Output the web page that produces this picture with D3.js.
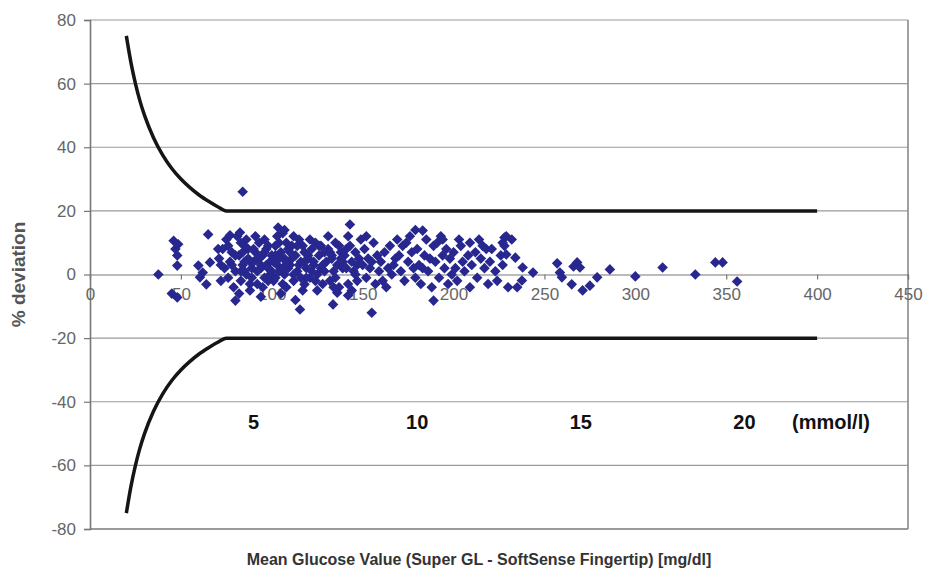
<!DOCTYPE html>
<html>
<head>
<meta charset="utf-8">
<script src="https://cdn.jsdelivr.net/npm/d3@7"></script>
<style>
  html, body { margin: 0; padding: 0; background: #fff; }
  svg { display: block; font-family: "Liberation Sans", Arial, sans-serif; }
</style>
</head>
<body>
<svg id="chart" width="944" height="575"></svg>
<script>
// Mean glucose (mg/dl) of each paired measurement
const glucose = [
  37.6, 45, 46, 47, 48, 48, 48.5, 48,
  59.6, 60.5, 62, 64, 65, 66, 70.5,
  71, 72, 73, 74, 75, 76, 77, 77, 78, 79, 80, 80, 72, 76,
  81, 82, 82.5, 83, 84, 84, 85, 86, 87, 88, 89, 84, 86, 88, 82, 85, 87, 89, 83,
  90, 91, 92, 93, 94, 95, 96, 97, 98, 99, 91, 93, 95, 97, 99, 92, 94, 96, 98,
  100, 101, 102, 103, 103.5, 104, 105, 106, 107, 107, 108, 109, 101, 103, 105, 107, 109, 102, 104, 106, 108,
  110, 111, 112, 113, 114, 115, 115.5, 116, 117, 118, 118, 119, 111, 113, 115, 117, 119, 112,
  120, 121, 122, 123, 124, 125, 126, 127, 128, 129, 121, 123, 125, 127, 129,
  130, 131, 132, 133, 133.7, 134, 135, 136, 136, 137, 138, 139, 131, 133, 135, 137, 139,
  140, 141, 142, 142, 143, 143, 144, 145, 146, 147, 148, 149, 141, 144, 147,
  150, 151, 152, 153, 154, 155, 156, 157, 158, 159, 152, 155,
  160, 161, 162, 163, 164, 165, 166, 167, 168, 169,
  170, 171, 172, 173, 174, 175, 176, 177, 178, 179, 179, 183,
  180, 181, 182, 183, 184, 185, 186, 187, 188, 189, 189,
  190, 191, 192, 193, 194, 194, 195, 196, 197, 198, 199,
  200, 201, 202, 203, 204, 205, 206, 208, 209, 209,
  210, 212, 213, 214, 215, 216, 217, 218, 219,
  220, 221, 223, 224, 226, 227, 227, 228, 228, 229, 229, 230,
  232, 234, 235, 237.6, 238, 243.7,
  257, 258.5, 259.6, 265, 266, 268, 269.5, 271, 275, 279, 286,
  300, 315, 333, 344, 348, 356,
  78, 80, 83, 85, 88, 90, 92, 94, 96, 98,
  100, 102, 104, 106, 108, 110, 112, 114, 116, 118,
  120, 122, 124, 126, 128, 132, 134, 138, 142, 146
];

// Percent deviation of each pair
const deviation = [
  0, -6, 10.6, 8, 6, -7.2, 9.5, 2.8,
  2.8, -0.9, 0.6, -3.1, 12.6, 3.8, 8,
  5, -2, 8, 2, 11, -1, 4, 12.3, 7, -4, 1, -8.2, 3, 9,
  12, 6, 13.2, -2, 3, 26, 9, 0, 5, -5, 2, 7, 11, 4, -6, 1, 8, -1, 10,
  4, 7, -3, 10, 2, 6, -1, 3, 9, 0, 12, 5, -4, 8, 4, 1, -7, 11, 2,
  6, -2, 9, 3, 14.8, 1, 7, -3, 5, 14, 10, 2, 4, 12, -6, 0, 8, -1, 5, 13, -4,
  3, 9, -2, 6, 1, 11, -11, 4, -5, 7, -3.1, 2, 5, -8, 3, 9, -1, 12,
  5, -1, 8, 3, 10, 0, 6, 2, -3, 7, 11, 4, -5, 9, 1,
  4, 8, -2, 6, -9.4, 1, 10, 3, -5.7, -4, 7, 2, 12, 5, -1, 9, 4,
  6, 2, -3, -6.6, 9, 15.7, 4, 1, 7, -2, 5, 11, 8, -5, 3,
  3, 8, -1, 5, 2, -12, 10, -3, 6, 1, 12, 4,
  4, -2, 7, -4, 2, 9, 0, 3, 5, 11,
  6, 1, 9, -2, 10, 4, 12, 7, 2, -1, 14, 13.8,
  8, 3, -3, 2, 6, 11, 1, 5, -4, 9, -8.2,
  4, 10, -1, 12, 6, 11, 2, 8, -3, 5, 0,
  7, 2, -2, 11, 9, 4, 1, 6, -4, 10,
  3, 7, -1, 11, 5, 9, 2, 8, -3,
  4, 8, 1, -2, 6, 10, 3, 11.6, 9, 12, 6.3, -4,
  11, 5.3, -4, -1.9, 2.2, 0.6,
  3.5, 0.6, -0.9, -3.1, 2.5, 3.8, 2.2, -5, -3.5, -0.9, 1.6,
  -0.6, 2.2, 0, 3.8, 3.8, -2.2,
  3, 6, 1, 4, -3, 8, 5, 3, 7, -2,
  1, 6, 10, 2, 4, 7, 0, 9, -1, 4,
  6, 1, -2, 9, 3, 7, -4, 5, 12, 0
];

// Acceptance boundary: glucose breakpoints and the ± limit (%) at each
const limitGlucose = [20, 22.5, 25, 27.5, 30, 35, 40, 45, 50, 55, 60, 65, 70, 75, 400];
const upperLimit   = [75, 66.7, 60, 54.5, 50, 42.9, 37.5, 33.3, 30, 27.3, 25, 23.1, 21.4, 20, 20];
const lowerLimit   = [-75, -66.7, -60, -54.5, -50, -42.9, -37.5, -33.3, -30, -27.3, -25, -23.1, -21.4, -20, -20];

// Axis ticks
const xTicks = [0, 50, 100, 150, 200, 250, 300, 350, 400, 450];
const yTicks = [-80, -60, -40, -20, 0, 20, 40, 60, 80];

// Secondary unit labels (mmol/l) shown at their mg/dl positions
const mmolLabels = [5, 10, 15, 20];
const mgPerMmol = 18;

const svg = d3.select("#chart");
const plotLeft = 90, plotRight = 908, plotTop = 20, plotBottom = 529;

const x = d3.scaleLinear().domain([0, 450]).range([plotLeft, plotRight]);
const y = d3.scaleLinear().domain([-80, 80]).range([plotBottom, plotTop]);

const plain = d => String(d);

// Horizontal gridlines
svg.append("g")
  .selectAll("line")
  .data(yTicks.filter(d => d !== 0))
  .join("line")
  .attr("x1", plotLeft).attr("x2", plotRight)
  .attr("y1", d => y(d)).attr("y2", d => y(d))
  .attr("stroke", "#9a9a9a").attr("stroke-width", 1.2);

// Plot area frame (right and bottom edges)
svg.append("line").attr("x1", plotRight).attr("x2", plotRight).attr("y1", plotTop).attr("y2", plotBottom)
  .attr("stroke", "#8a8a8a").attr("stroke-width", 1.6);
svg.append("line").attr("x1", plotLeft).attr("x2", plotRight).attr("y1", plotBottom).attr("y2", plotBottom)
  .attr("stroke", "#8a8a8a").attr("stroke-width", 1.6);

// Y axis
const yAxis = svg.append("g")
  .attr("transform", `translate(${plotLeft},0)`)
  .call(d3.axisLeft(y).tickValues(yTicks).tickFormat(plain).tickSize(6).tickPadding(8));
yAxis.select(".domain").attr("stroke", "#777").attr("stroke-width", 1.6);
yAxis.selectAll(".tick line").attr("stroke", "#777").attr("stroke-width", 1.2);
yAxis.selectAll(".tick text")
  .attr("font-size", 17).attr("fill", "#666")
  .attr("font-family", "Liberation Sans, Arial, sans-serif");

// X axis crossing at 0 %
const xAxis = svg.append("g")
  .attr("transform", `translate(0,${y(0)})`)
  .call(d3.axisBottom(x).tickValues(xTicks).tickFormat(plain).tickSize(5).tickPadding(8));
xAxis.select(".domain").attr("stroke", "#777").attr("stroke-width", 1.2);
xAxis.selectAll(".tick line").attr("stroke", "#777").attr("stroke-width", 1.2);
xAxis.selectAll(".tick text")
  .attr("font-size", 17).attr("fill", "#666")
  .attr("font-family", "Liberation Sans, Arial, sans-serif");

// Boundary curves
const limitLine = d3.line().curve(d3.curveMonotoneX);
[upperLimit, lowerLimit].forEach(lim => {
  svg.append("path")
    .attr("d", limitLine(limitGlucose.map((g, i) => [x(g), y(lim[i])])))
    .attr("fill", "none")
    .attr("stroke", "#151515")
    .attr("stroke-width", 3.5);
});

// Scatter points (diamonds)
const diamond = d3.symbol().type(d3.symbolSquare).size(56);
svg.append("g")
  .selectAll("path")
  .data(glucose.map((g, i) => [g, deviation[i]]))
  .join("path")
  .attr("d", diamond)
  .attr("transform", d => `translate(${x(d[0])},${y(d[1])}) rotate(45)`)
  .attr("fill", "#27278f");

// mmol/l labels
svg.append("g")
  .selectAll("text")
  .data(mmolLabels)
  .join("text")
  .attr("x", d => x(d * mgPerMmol))
  .attr("y", 429)
  .attr("text-anchor", "middle")
  .attr("font-size", 20).attr("font-weight", "bold").attr("fill", "#111")
  .text(d => d);
svg.append("text")
  .attr("x", 831).attr("y", 429)
  .attr("text-anchor", "middle")
  .attr("font-size", 20).attr("font-weight", "bold").attr("fill", "#111")
  .text("(mmol/l)");

// Axis titles
svg.append("text")
  .attr("transform", `translate(25,${(plotTop + plotBottom) / 2}) rotate(-90)`)
  .attr("text-anchor", "middle")
  .attr("font-size", 19).attr("font-weight", "bold").attr("fill", "#555")
  .text("% deviation");

svg.append("text")
  .attr("x", 479).attr("y", 565)
  .attr("text-anchor", "middle")
  .attr("font-size", 16).attr("font-weight", "bold").attr("fill", "#333")
  .text("Mean Glucose Value (Super GL - SoftSense Fingertip) [mg/dl]");
</script>
</body>
</html>
